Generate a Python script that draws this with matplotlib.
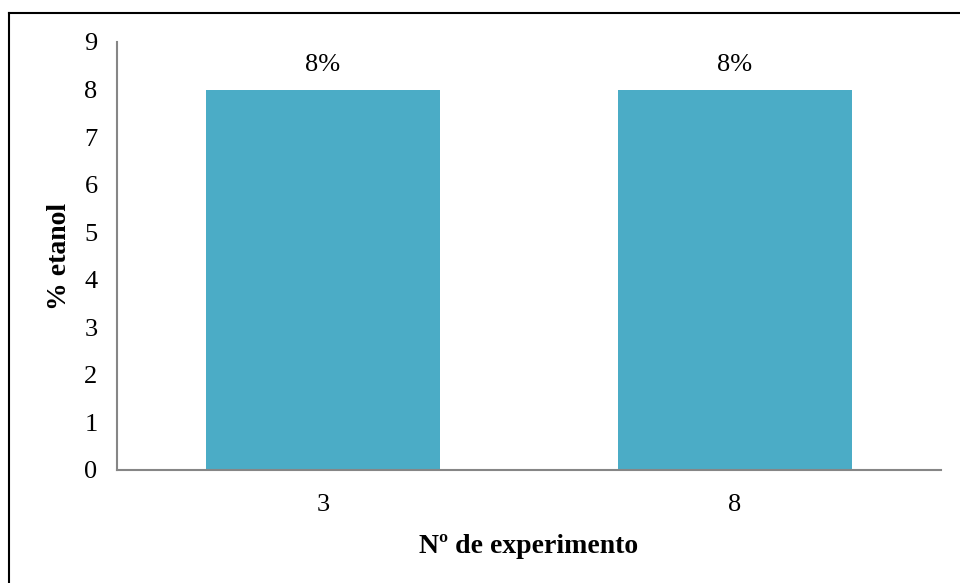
import matplotlib.pyplot as plt
from matplotlib.lines import Line2D

# dados
experimentos = ["3", "8"]
etanol = [8, 8]
rotulos = ["8%", "8%"]

plt.rcParams['font.family'] = ['Liberation Serif', 'DejaVu Serif']

fig = plt.figure(figsize=(9.6, 5.83), dpi=100)
ax = fig.add_axes([117 / 960, 113 / 583, 824 / 960, 428 / 583])

x = range(len(experimentos))
bars = ax.bar(x, etanol, width=0.57, color="#4BACC6")

for b, r in zip(bars, rotulos):
    ax.text(b.get_x() + b.get_width() / 2, b.get_height() + 0.28, r,
            ha="center", va="bottom", fontsize=19)

ax.set_xlim(-0.5, 1.5)
ax.set_ylim(0, 9)
ax.set_yticks(range(10))
ax.set_xticks(list(x))
ax.set_xticklabels(experimentos)
ax.tick_params(length=0, labelsize=19)
ax.tick_params(axis="y", pad=14)
ax.tick_params(axis="x", pad=17)

for s in ["top", "right"]:
    ax.spines[s].set_visible(False)
for s in ["left", "bottom"]:
    ax.spines[s].set_color("#868686")
    ax.spines[s].set_linewidth(1.5)

ax.set_xlabel("Nº de experimento", fontsize=20, fontweight="bold", labelpad=13)
ax.set_ylabel("% etanol", fontsize=20, fontweight="bold", labelpad=9)

# borda da figura (recortada: só esquerda e topo)
fig.add_artist(Line2D([9 / 960, 9 / 960], [0, 1 - 13 / 583], color="black", lw=1.5, transform=fig.transFigure))
fig.add_artist(Line2D([9 / 960, 1], [1 - 13 / 583, 1 - 13 / 583], color="black", lw=1.5, transform=fig.transFigure))

fig.savefig("out.png", dpi=100)
